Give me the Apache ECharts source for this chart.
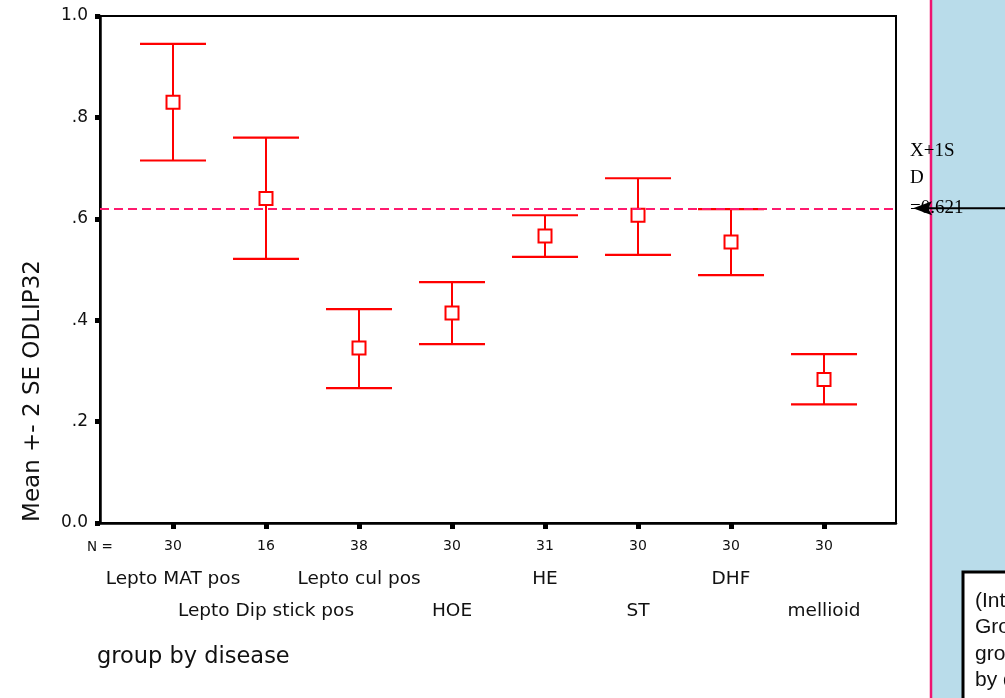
<!DOCTYPE html>
<html>
<head>
<meta charset="utf-8">
<script src="https://cdn.jsdelivr.net/npm/echarts@6/dist/echarts.min.js"></script>
<style>
  html, body { margin: 0; padding: 0; background: #fff; }
  #chart { width: 1005px; height: 698px; }
</style>
</head>
<body>
<div id="chart"></div>
<script>
// Groups, sample sizes and mean +- 2 SE of ODLIP32 per disease group
const categories = ['Lepto MAT pos', 'Lepto Dip stick pos', 'Lepto cul pos', 'HOE', 'HE', 'ST', 'DHF', 'mellioid'];
const nValues = [30, 16, 38, 30, 31, 30, 30, 30];
const means = [0.830, 0.640, 0.345, 0.414, 0.566, 0.607, 0.554, 0.283];
const upper = [0.945, 0.760, 0.422, 0.475, 0.607, 0.680, 0.619, 0.333];
const lower = [0.715, 0.521, 0.266, 0.353, 0.525, 0.529, 0.489, 0.234];
const yTickLabels = ['0.0', '.2', '.4', '.6', '.8', '1.0'];

// Cut-off line (mean + 1 SD) and its annotation
const refValue = 0.621;
const refLabelLines = ['X+1S', 'D', '=0.621'];
const noteLines = ['(Interpretation:', 'Group means', 'grouped', 'by disease)'];

const yTitle = 'Mean +- 2 SE ODLIP32';
const xTitle = 'group by disease';

const positions = categories.map((c, i) => i + 1);
const oddRow = positions.filter((p, i) => i % 2 === 0);   // first label row
const evenRow = positions.filter((p, i) => i % 2 === 1);  // second label row
const X_MIN = 0.215, X_MAX = 8.774;
const SANS = 'DejaVu Sans';
const RED = '#ff0000';
const TEXT = '#111';

const chart = echarts.init(document.getElementById('chart'), null, { renderer: 'canvas' });

const catLabel = i => categories[Math.round(i) - 1] || '';

function labelAxis(values, margin) {
  return {
    type: 'value', min: X_MIN, max: X_MAX, position: 'bottom', gridIndex: 0,
    splitLine: { show: false }, axisLine: { show: false }, axisTick: { show: false },
    axisLabel: {
      customValues: values, margin: margin, showMinLabel: true, showMaxLabel: true,
      fontSize: 18.5, fontFamily: SANS, color: TEXT, formatter: catLabel
    }
  };
}

const option = {
  animation: false,
  backgroundColor: '#fff',
  grid: {
    left: 100, top: 16, width: 796, height: 507,
    show: true, borderColor: '#000', borderWidth: 2, backgroundColor: 'transparent'
  },
  xAxis: [
    {
      type: 'value', min: X_MIN, max: X_MAX, position: 'bottom',
      splitLine: { show: false },
      axisLine: { onZero: false, lineStyle: { color: '#000', width: 2.5 } },
      axisTick: { customValues: positions, length: 6, lineStyle: { color: '#000', width: 5 } },
      axisLabel: {
        customValues: positions, margin: 16, showMinLabel: true, showMaxLabel: true,
        fontSize: 14, fontFamily: SANS, color: TEXT,
        formatter: v => String(nValues[Math.round(v) - 1])
      }
    },
    labelAxis(oddRow, 47),
    labelAxis(evenRow, 79)
  ],
  yAxis: {
    type: 'value', min: 0, max: 1, interval: 0.2,
    splitLine: { show: false },
    axisLine: { lineStyle: { color: '#000', width: 2.5 } },
    axisTick: { length: 5, lineStyle: { color: '#000', width: 5 } },
    axisLabel: {
      margin: 12, fontSize: 17, fontFamily: SANS, color: TEXT,
      formatter: v => yTickLabels[Math.round(v * 5)]
    }
  },
  series: [{
    type: 'custom',
    coordinateSystem: 'cartesian2d',
    xAxisIndex: 0, yAxisIndex: 0,
    data: positions.map((p, i) => [p, lower[i], means[i], upper[i]]),
    encode: { x: 0, y: [1, 2, 3] },
    renderItem: function (params, api) {
      const x = api.value(0);
      const lo = api.coord([x, api.value(1)]);
      const mid = api.coord([x, api.value(2)]);
      const hi = api.coord([x, api.value(3)]);
      const half = 33, box = 6.5;
      return {
        type: 'group',
        children: [
          { type: 'line', shape: { x1: hi[0], y1: hi[1], x2: lo[0], y2: lo[1] }, style: { stroke: RED, lineWidth: 2 } },
          { type: 'line', shape: { x1: hi[0] - half, y1: hi[1], x2: hi[0] + half, y2: hi[1] }, style: { stroke: RED, lineWidth: 2.2 } },
          { type: 'line', shape: { x1: lo[0] - half, y1: lo[1], x2: lo[0] + half, y2: lo[1] }, style: { stroke: RED, lineWidth: 2.2 } },
          { type: 'rect', shape: { x: mid[0] - box, y: mid[1] - box, width: 2 * box, height: 2 * box }, style: { fill: '#fff', stroke: RED, lineWidth: 2 } }
        ]
      };
    },
    markLine: {
      silent: true,
      symbol: 'none',
      label: { show: false },
      lineStyle: { color: '#ff1a6e', type: [9, 5], width: 2 },
      data: [{ yAxis: refValue }]
    },
    z: 3
  }]
};

chart.setOption(option);

// Annotation side panel, axis titles and notes placed relative to the cut-off line
const yRef = chart.convertToPixel({ yAxisIndex: 0 }, refValue);
const graphics = [
  { type: 'rect', z: 0, shape: { x: 931, y: 0, width: 80, height: 698 }, style: { fill: '#b9dcea' } },
  { type: 'line', z: 1, shape: { x1: 931, y1: 0, x2: 931, y2: 698 }, style: { stroke: '#ee1470', lineWidth: 2.5 } },
  { type: 'text', z: 2, x: 910, y: yRef - 57, style: { text: refLabelLines[0], fontSize: 19, fontFamily: 'Liberation Serif', fill: '#000', verticalAlign: 'middle' } },
  { type: 'text', z: 2, x: 910, y: yRef - 30, style: { text: refLabelLines[1], fontSize: 19, fontFamily: 'Liberation Serif', fill: '#000', verticalAlign: 'middle' } },
  { type: 'text', z: 2, x: 910, y: yRef, style: { text: refLabelLines[2], fontSize: 19, fontFamily: 'Liberation Serif', fill: '#000', verticalAlign: 'middle' } },
  { type: 'line', z: 3, shape: { x1: 920, y1: yRef, x2: 1005, y2: yRef }, style: { stroke: '#000', lineWidth: 2 } },
  { type: 'polygon', z: 3, shape: { points: [[913, yRef], [932, yRef - 7], [928, yRef], [932, yRef + 7]] }, style: { fill: '#000' } },
  { type: 'rect', z: 2, shape: { x: 963, y: 572, width: 90, height: 200 }, style: { fill: '#fff', stroke: '#000', lineWidth: 3 } },
  { type: 'text', z: 3, x: 87, y: 547, style: { text: 'N =', fontSize: 13.5, fontFamily: SANS, fill: TEXT, align: 'left', verticalAlign: 'middle' } },
  { type: 'text', z: 3, x: 33, y: 391, rotation: Math.PI / 2, style: { text: yTitle, fontSize: 23, fontFamily: SANS, fill: TEXT, align: 'center', verticalAlign: 'middle' } },
  { type: 'text', z: 3, x: 97, y: 657, style: { text: xTitle, fontSize: 22.5, fontFamily: SANS, fill: TEXT, align: 'left', verticalAlign: 'middle' } }
];
noteLines.forEach((t, i) => {
  graphics.push({ type: 'text', z: 4, x: 975, y: 601 + 26.5 * i, style: { text: t, fontSize: 21, fontFamily: 'Liberation Sans', fill: TEXT, verticalAlign: 'middle' } });
});
chart.setOption({ graphic: graphics });
</script>
</body>
</html>
